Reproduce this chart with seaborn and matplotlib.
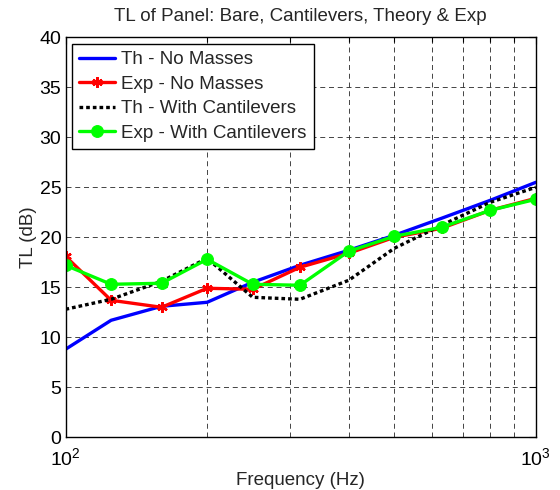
import matplotlib
matplotlib.use("Agg")
import matplotlib.pyplot as plt
import seaborn as sns
from matplotlib.ticker import LogLocator, NullFormatter, FixedLocator

# ---- data ----
freqs = [100, 125, 160, 200, 250, 315, 400, 500, 630, 800, 1000]
th_no_masses = [8.8, 11.7, 13.1, 13.5, 15.5, 17.2, 18.7, 20.2, 21.9, 23.7, 25.5]
exp_no_masses = [18.1, 13.7, 13.0, 14.9, 14.8, 17.0, 18.4, 20.0, 20.9, 22.7, 23.9]
th_cantilevers = [12.8, 13.8, 15.6, 17.9, 14.0, 13.8, 15.7, 18.9, 21.2, 23.5, 25.0]
exp_cantilevers = [17.2, 15.3, 15.4, 17.8, 15.3, 15.2, 18.6, 20.1, 21.0, 22.7, 23.8]
labels = ["Th - No Masses", "Exp - No Masses", "Th - With Cantilevers", "Exp - With Cantilevers"]
y_ticks = [0, 5, 10, 15, 20, 25, 30, 35, 40]

sns.set_theme(style="white")
plt.rcParams["font.family"] = ["Liberation Sans", "DejaVu Sans"]
plt.rcParams["mathtext.fontset"] = "custom"
plt.rcParams["mathtext.rm"] = "Liberation Sans"
plt.rcParams["mathtext.it"] = "Liberation Sans"
FS = 13.5

fig = plt.figure(figsize=(5.6, 4.9), dpi=100)
ax = fig.add_axes([0.117, 0.1076, 0.840, 0.8163])

sns.lineplot(x=freqs, y=th_no_masses, color="#0000ff", lw=2.4, label=labels[0], ax=ax)
sns.lineplot(x=freqs, y=exp_no_masses, color="#ff0000", lw=2.4, marker=(6, 2, 0),
             markersize=7.5, markeredgewidth=1.7, markeredgecolor="#ff0000",
             label=labels[1], ax=ax)
sns.lineplot(x=freqs, y=th_cantilevers, color="black", lw=2.4, label=labels[2], ax=ax)
ax.lines[2].set_dashes([1.1, 0.9])
ax.lines[2].set_dash_capstyle("butt")
sns.lineplot(x=freqs, y=exp_cantilevers, color="#00ff00", lw=2.4, marker="o",
             markersize=8.5, markeredgecolor="#00ff00", markerfacecolor="#00ff00",
             label=labels[3], ax=ax)

ax.set_xscale("log")
ax.set_xlim(100, 1000)
ax.set_ylim(0, 40)
ax.yaxis.set_major_locator(FixedLocator(y_ticks))
ax.xaxis.set_major_locator(LogLocator(base=10))
ax.xaxis.set_minor_locator(LogLocator(base=10, subs=range(2, 10)))
ax.xaxis.set_minor_formatter(NullFormatter())

grid_kw = dict(color="0.15", lw=0.6, linestyle=(0, (6, 4.5)))
ax.grid(True, which="major", axis="y", **grid_kw)
ax.grid(True, which="both", axis="x", **grid_kw)
ax.set_axisbelow(True)

for s in ax.spines.values():
    s.set_visible(True)
    s.set_color("black")
    s.set_linewidth(1.0)

ax.tick_params(which="both", direction="in", top=True, right=True, colors="black",
               labelsize=14)
ax.tick_params(axis="y", pad=3)
ax.tick_params(axis="x", pad=7.5)
ax.tick_params(which="major", length=5, width=0.8)
ax.tick_params(which="minor", length=3.5, width=0.8)

ax.set_title("TL of Panel: Bare, Cantilevers, Theory & Exp", fontsize=FS, pad=12)
ax.set_xlabel("Frequency (Hz)", fontsize=FS, labelpad=2)
ax.set_ylabel("TL (dB)", fontsize=FS, labelpad=2)

leg = ax.legend(loc="upper left", fontsize=FS, fancybox=False, edgecolor="black",
                framealpha=1, borderaxespad=0.35, handlelength=1.9,
                handletextpad=0.35, labelspacing=0.4, borderpad=0.38)
leg.get_frame().set_linewidth(1.0)

fig.savefig("out.png", dpi=100)
